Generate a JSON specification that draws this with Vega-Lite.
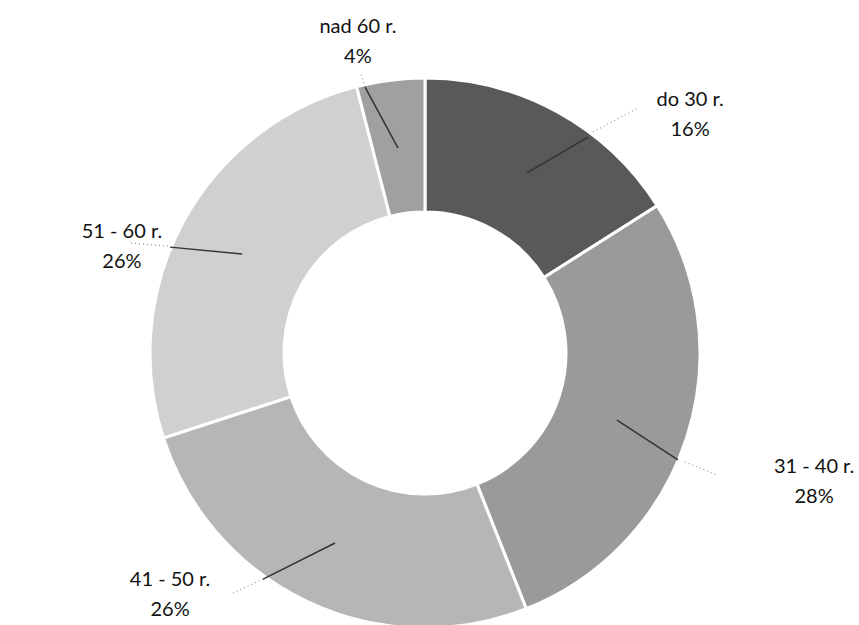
{
  "$schema": "https://vega.github.io/schema/vega-lite/v6.json",
  "autosize": {"type": "none"},
  "width": 550,
  "height": 550,
  "padding": {"left": 150, "top": 78, "right": 159, "bottom": 0},
  "background": "white",
  "config": {"view": {"stroke": null}},
  "datasets": {
    "slices": [
      {"cat": "do 30 r.", "value": 16, "o": 1},
      {"cat": "31 - 40 r.", "value": 28, "o": 2},
      {"cat": "41 - 50 r.", "value": 26, "o": 3},
      {"cat": "51 - 60 r.", "value": 26, "o": 4},
      {"cat": "nad 60 r.", "value": 4, "o": 5}
    ],
    "labels": [
      {"label": "nad 60 r.\n4%", "lx": -0.244, "ly": 1.185},
      {"label": "do 30 r.\n16%", "lx": 0.964, "ly": 0.92},
      {"label": "31 - 40 r.\n28%", "lx": 1.415, "ly": -0.415},
      {"label": "41 - 50 r.\n26%", "lx": -0.927, "ly": -0.825},
      {"label": "51 - 60 r.\n26%", "lx": -1.102, "ly": 0.44}
    ],
    "solid": [
      {"x1": 0.371, "y1": 0.655, "x2": 0.593, "y2": 0.785},
      {"x1": 0.698, "y1": -0.244, "x2": 0.92, "y2": -0.389},
      {"x1": -0.098, "y1": 0.745, "x2": -0.218, "y2": 0.967},
      {"x1": -0.665, "y1": 0.36, "x2": -0.927, "y2": 0.385},
      {"x1": -0.327, "y1": -0.691, "x2": -0.589, "y2": -0.822}
    ],
    "dotted": [
      {"x1": 0.611, "y1": 0.804, "x2": 0.775, "y2": 0.891},
      {"x1": 0.945, "y1": -0.396, "x2": 1.062, "y2": -0.444},
      {"x1": -0.218, "y1": 0.967, "x2": -0.233, "y2": 1.015},
      {"x1": -0.935, "y1": 0.389, "x2": -1.073, "y2": 0.4},
      {"x1": -0.589, "y1": -0.822, "x2": -0.698, "y2": -0.873}
    ]
  },
  "layer": [
    {
      "data": {"name": "slices"},
      "mark": {"type": "arc", "outerRadius": 275, "innerRadius": 141, "stroke": "white", "strokeWidth": 3},
      "encoding": {
        "theta": {"field": "value", "type": "quantitative", "stack": true},
        "order": {"field": "o", "type": "quantitative"},
        "color": {
          "field": "cat", "type": "nominal", "legend": null,
          "scale": {
            "domain": ["do 30 r.", "31 - 40 r.", "41 - 50 r.", "51 - 60 r.", "nad 60 r."],
            "range": ["#595959", "#9a9a9a", "#b6b6b6", "#d0d0d0", "#a0a0a0"]
          }
        }
      }
    },
    {
      "data": {"name": "solid"},
      "mark": {"type": "rule", "color": "#333333", "strokeWidth": 1.5},
      "encoding": {
        "x": {"field": "x1", "type": "quantitative", "scale": {"domain": [-1, 1], "nice": false, "zero": false}, "axis": null},
        "y": {"field": "y1", "type": "quantitative", "scale": {"domain": [-1, 1], "nice": false, "zero": false}, "axis": null},
        "x2": {"field": "x2"},
        "y2": {"field": "y2"}
      }
    },
    {
      "data": {"name": "dotted"},
      "mark": {"type": "rule", "color": "#777777", "strokeWidth": 1, "strokeDash": [1, 3]},
      "encoding": {
        "x": {"field": "x1", "type": "quantitative", "scale": {"domain": [-1, 1], "nice": false, "zero": false}, "axis": null},
        "y": {"field": "y1", "type": "quantitative", "scale": {"domain": [-1, 1], "nice": false, "zero": false}, "axis": null},
        "x2": {"field": "x2"},
        "y2": {"field": "y2"}
      }
    },
    {
      "data": {"name": "labels"},
      "mark": {"type": "text", "font": "Lato", "fontSize": 20, "color": "#111111", "lineBreak": "\n", "lineHeight": 30, "align": "center", "baseline": "middle"},
      "encoding": {
        "x": {"field": "lx", "type": "quantitative", "scale": {"domain": [-1, 1], "nice": false, "zero": false}, "axis": null},
        "y": {"field": "ly", "type": "quantitative", "scale": {"domain": [-1, 1], "nice": false, "zero": false}, "axis": null},
        "text": {"field": "label"}
      }
    }
  ]
}
